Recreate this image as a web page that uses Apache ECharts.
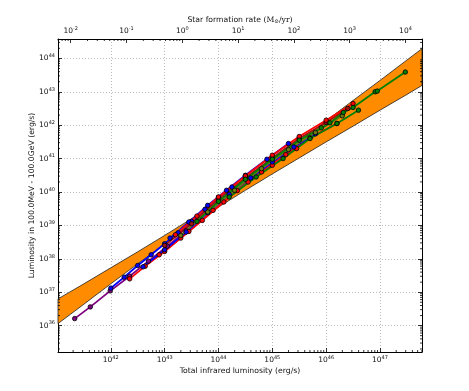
<!DOCTYPE html>
<html>
<head>
<meta charset="utf-8">
<script src="https://cdn.jsdelivr.net/npm/echarts@6/dist/echarts.min.js"></script>
<style>
  html, body { margin: 0; padding: 0; background: #fff; }
  #chart { width: 469px; height: 391px; }
</style>
</head>
<body>
<div id="chart"></div>
<script>
// axis ranges, log10
const xRange = [41.02, 47.78];
const yRange = [35.21, 44.58];
const sfrRange = [-2.228, 4.296];

// confidence band (log10 L_IR -> log10 L_gamma)
const bandX = [41.02, 41.5, 42, 42.5, 43, 43.5, 43.7, 44, 44.5, 45, 45.5, 46, 46.5, 47, 47.5, 47.78];
const bandLow = [36.06, 36.64, 37.25, 37.85, 38.44, 39.02, 39.24, 39.55, 40.05, 40.54, 41.02, 41.50, 41.97, 42.45, 42.92, 43.19];
const bandHigh = [36.80, 37.25, 37.73, 38.21, 38.70, 39.20, 39.42, 39.75, 40.33, 40.93, 41.53, 42.13, 42.74, 43.34, 43.95, 44.29];

// sources (log10 L_IR, log10 L_gamma)
const purpleX = [41.33, 41.62, 41.99, 42.35, 42.7, 43.05, 43.4];
const purpleY = [36.21, 36.56, 37.04, 37.48, 37.93, 38.38, 38.84];
const red1X = [42.35, 42.64, 43.0, 43.45, 43.9, 44.35, 44.8, 45.25, 45.7, 46.2];
const red1Y = [37.40, 37.78, 38.22, 38.82, 39.45, 40.04, 40.6, 41.12, 41.62, 42.05];
const blue1X = [42.0, 42.25, 42.5, 42.75, 43.0, 43.25, 43.5, 43.75, 44.0, 44.25];
const blue1Y = [37.12, 37.45, 37.80, 38.12, 38.45, 38.78, 39.12, 39.48, 39.84, 40.15];
const blue2X = [42.6, 43.0, 43.4, 43.8, 44.2, 44.6, 45.0, 45.4, 45.8];
const blue2Y = [37.76, 38.27, 38.8, 39.38, 39.93, 40.42, 40.9, 41.35, 41.74];
const blue3X = [43.1, 43.45, 43.8, 44.15, 44.5, 44.9, 45.3];
const blue3Y = [38.62, 39.1, 39.6, 40.05, 40.5, 40.98, 41.45];
const maroonX = [43.0, 43.5, 44.0, 44.5, 45.0, 45.5, 46.0, 46.4];
const maroonY = [38.4, 39.05, 39.78, 40.42, 41.02, 41.6, 42.08, 42.5];
const oliveX = [43.3, 43.8, 44.3, 44.8, 45.3, 45.8, 46.3];
const oliveY = [38.7, 39.4, 40.05, 40.7, 41.27, 41.78, 42.28];
const red2X = [43.2, 43.6, 44.0, 44.5, 45.0, 45.5, 46.0, 46.5];
const red2Y = [38.72, 39.28, 39.85, 40.48, 41.1, 41.66, 42.15, 42.65];
const red3X = [42.9, 43.3, 43.7, 44.1, 44.55, 45.0, 45.45];
const red3Y = [38.12, 38.62, 39.15, 39.7, 40.3, 40.8, 41.3];
const green2X = [44.2, 44.7, 45.2, 45.7, 46.2, 46.6];
const green2Y = [39.85, 40.45, 41.0, 41.6, 42.05, 42.45];
const green1X = [43.6, 44.0, 44.5, 45.0, 45.5, 45.91, 46.07, 46.32, 46.5, 46.91, 46.95, 47.47];
const green1Y = [39.12, 39.72, 40.38, 40.98, 41.55, 41.92, 42.07, 42.38, 42.53, 43.0, 43.02, 43.59];

const sources = [
  { x: purpleX, y: purpleY, color: "#800080" },
  { x: red1X, y: red1Y, color: "#ff0000" },
  { x: red3X, y: red3Y, color: "#ff0000" },
  { x: blue1X, y: blue1Y, color: "#0000ff" },
  { x: blue2X, y: blue2Y, color: "#0000ff" },
  { x: blue3X, y: blue3Y, color: "#0000ff" },
  { x: maroonX, y: maroonY, color: "#a01010" },
  { x: oliveX, y: oliveY, color: "#6b7a10" },
  { x: red2X, y: red2Y, color: "#ff0000" },
  { x: green2X, y: green2Y, color: "#008000" },
  { x: green1X, y: green1Y, color: "#008000" }
];

const pow10 = v => Math.pow(10, v);
const FONT = "DejaVu Sans";

const supLabel = v => "{b|10}{s|" + Math.round(Math.log10(v)) + "}";
const labelRich = {
  b: { fontSize: 7.5, fontFamily: FONT, color: "#111", lineHeight: 10 },
  s: { fontSize: 5, fontFamily: FONT, color: "#111", lineHeight: 6, verticalAlign: "top" }
};

// log minor ticks 2..9 x 10^n
function minorTicks(range) {
  const out = [];
  for (let e = Math.floor(range[0]) - 1; e <= Math.ceil(range[1]); e++) {
    for (let m = 2; m <= 9; m++) {
      const lv = e + Math.log10(m);
      if (lv > range[0] && lv < range[1]) out.push(m * pow10(e));
    }
  }
  return out;
}

function tickSeries(xIdx, sides) {
  return {
    type: "custom",
    xAxisIndex: xIdx,
    yAxisIndex: 0,
    silent: true,
    z: 5,
    data: [[pow10(xRange[0] + 1), pow10(yRange[0] + 1)]],
    renderItem(params, api) {
      const cs = params.coordSys;
      const children = [];
      const style = { stroke: "#000", lineWidth: 0.8 };
      const len = 2;
      if (sides.indexOf("bottom") >= 0 || sides.indexOf("top") >= 0) {
        const r = xIdx === 0 ? xRange : sfrRange;
        minorTicks(r).forEach(v => {
          const px = api.coord([v, pow10(yRange[0] + 1)])[0];
          if (sides.indexOf("bottom") >= 0)
            children.push({ type: "line", shape: { x1: px, y1: cs.y + cs.height, x2: px, y2: cs.y + cs.height - len }, style });
          if (sides.indexOf("top") >= 0)
            children.push({ type: "line", shape: { x1: px, y1: cs.y, x2: px, y2: cs.y + len }, style });
        });
      }
      if (sides.indexOf("left") >= 0) {
        minorTicks(yRange).forEach(v => {
          const py = api.coord([pow10(xRange[0] + 1), v])[1];
          children.push({ type: "line", shape: { x1: cs.x, y1: py, x2: cs.x + len, y2: py }, style });
          children.push({ type: "line", shape: { x1: cs.x + cs.width, y1: py, x2: cs.x + cs.width - len, y2: py }, style });
        });
      }
      return { type: "group", children };
    }
  };
}

const bandSeries = {
  type: "custom",
  xAxisIndex: 0,
  yAxisIndex: 0,
  silent: true,
  z: 1,
  data: [[pow10(bandX[0]), pow10(bandLow[0])]],
  renderItem(params, api) {
    const pts = [];
    bandX.forEach((x, i) => pts.push(api.coord([pow10(x), pow10(bandHigh[i])])));
    for (let i = bandX.length - 1; i >= 0; i--) pts.push(api.coord([pow10(bandX[i]), pow10(bandLow[i])]));
    return {
      type: "polygon",
      shape: { points: pts },
      style: { fill: "#ff8c00", stroke: "#222", lineWidth: 0.8 }
    };
  }
};

const lineSeries = sources.map(s => ({
  type: "line",
  xAxisIndex: 0,
  yAxisIndex: 0,
  z: 3,
  data: s.x.map((x, i) => [pow10(x), pow10(s.y[i])]),
  symbol: "circle",
  symbolSize: 4.5,
  showSymbol: true,
  lineStyle: { color: s.color, width: 1.8 },
  itemStyle: { color: s.color, borderColor: "#000", borderWidth: 0.8 },
  animation: false
}));

const axisLineStyle = { show: true, onZero: false, lineStyle: { color: "#000", width: 1 } };
const majorTick = { show: true, inside: true, length: 4, lineStyle: { color: "#000", width: 0.8 } };
const gridLine = { show: true, lineStyle: { color: "#aaa", type: [1, 2], width: 0.8 } };

const chart = echarts.init(document.getElementById("chart"));
chart.setOption({
  animation: false,
  backgroundColor: "#fff",
  grid: { left: 58, right: 47, top: 39, bottom: 39 },
  xAxis: [
    {
      type: "log", logBase: 10, position: "bottom",
      min: pow10(xRange[0]), max: pow10(xRange[1]),
      name: "Total infrared luminosity (erg/s)",
      nameLocation: "middle", nameGap: 15, nameMoveOverlap: false,
      nameTextStyle: { fontSize: 7.7, fontFamily: FONT, color: "#111" },
      axisLine: axisLineStyle, axisTick: majorTick,
      axisLabel: { formatter: supLabel, rich: labelRich, margin: 3, showMinLabel: false, showMaxLabel: false },
      splitLine: gridLine
    },
    {
      type: "log", logBase: 10, position: "top",
      min: pow10(sfrRange[0]), max: pow10(sfrRange[1]),
      name: "Star formation rate {m|(M}{o|⊙}{m|/yr)}",
      nameLocation: "middle", nameGap: 14, nameMoveOverlap: false,
      nameTextStyle: {
        fontSize: 7.7, fontFamily: FONT, color: "#111",
        rich: {
          m: { fontSize: 7.7, fontFamily: "DejaVu Serif", color: "#111" },
          o: { fontSize: 5.5, fontFamily: "DejaVu Serif", color: "#111", verticalAlign: "bottom", padding: [4, 0, 0, 0] }
        }
      },
      axisLine: axisLineStyle, axisTick: majorTick,
      axisLabel: { formatter: supLabel, rich: labelRich, margin: 3, showMinLabel: false, showMaxLabel: false },
      splitLine: { show: false }
    }
  ],
  yAxis: [
    {
      type: "log", logBase: 10, position: "left",
      min: pow10(yRange[0]), max: pow10(yRange[1]),
      name: "Luminosity in 100.0MeV - 100.0GeV (erg/s)",
      nameLocation: "middle", nameGap: 22, nameMoveOverlap: false,
      nameTextStyle: { fontSize: 7.7, fontFamily: FONT, color: "#111" },
      axisLine: axisLineStyle, axisTick: majorTick,
      axisLabel: { formatter: supLabel, rich: labelRich, margin: 3, showMinLabel: false, showMaxLabel: false },
      splitLine: gridLine
    },
    {
      type: "log", logBase: 10, position: "right",
      min: pow10(yRange[0]), max: pow10(yRange[1]),
      axisLine: axisLineStyle, axisTick: majorTick,
      axisLabel: { show: false },
      splitLine: { show: false }
    }
  ],
  series: [bandSeries].concat(lineSeries, [tickSeries(0, ["bottom", "left"]), tickSeries(1, ["top"])])
});
</script>
</body>
</html>
